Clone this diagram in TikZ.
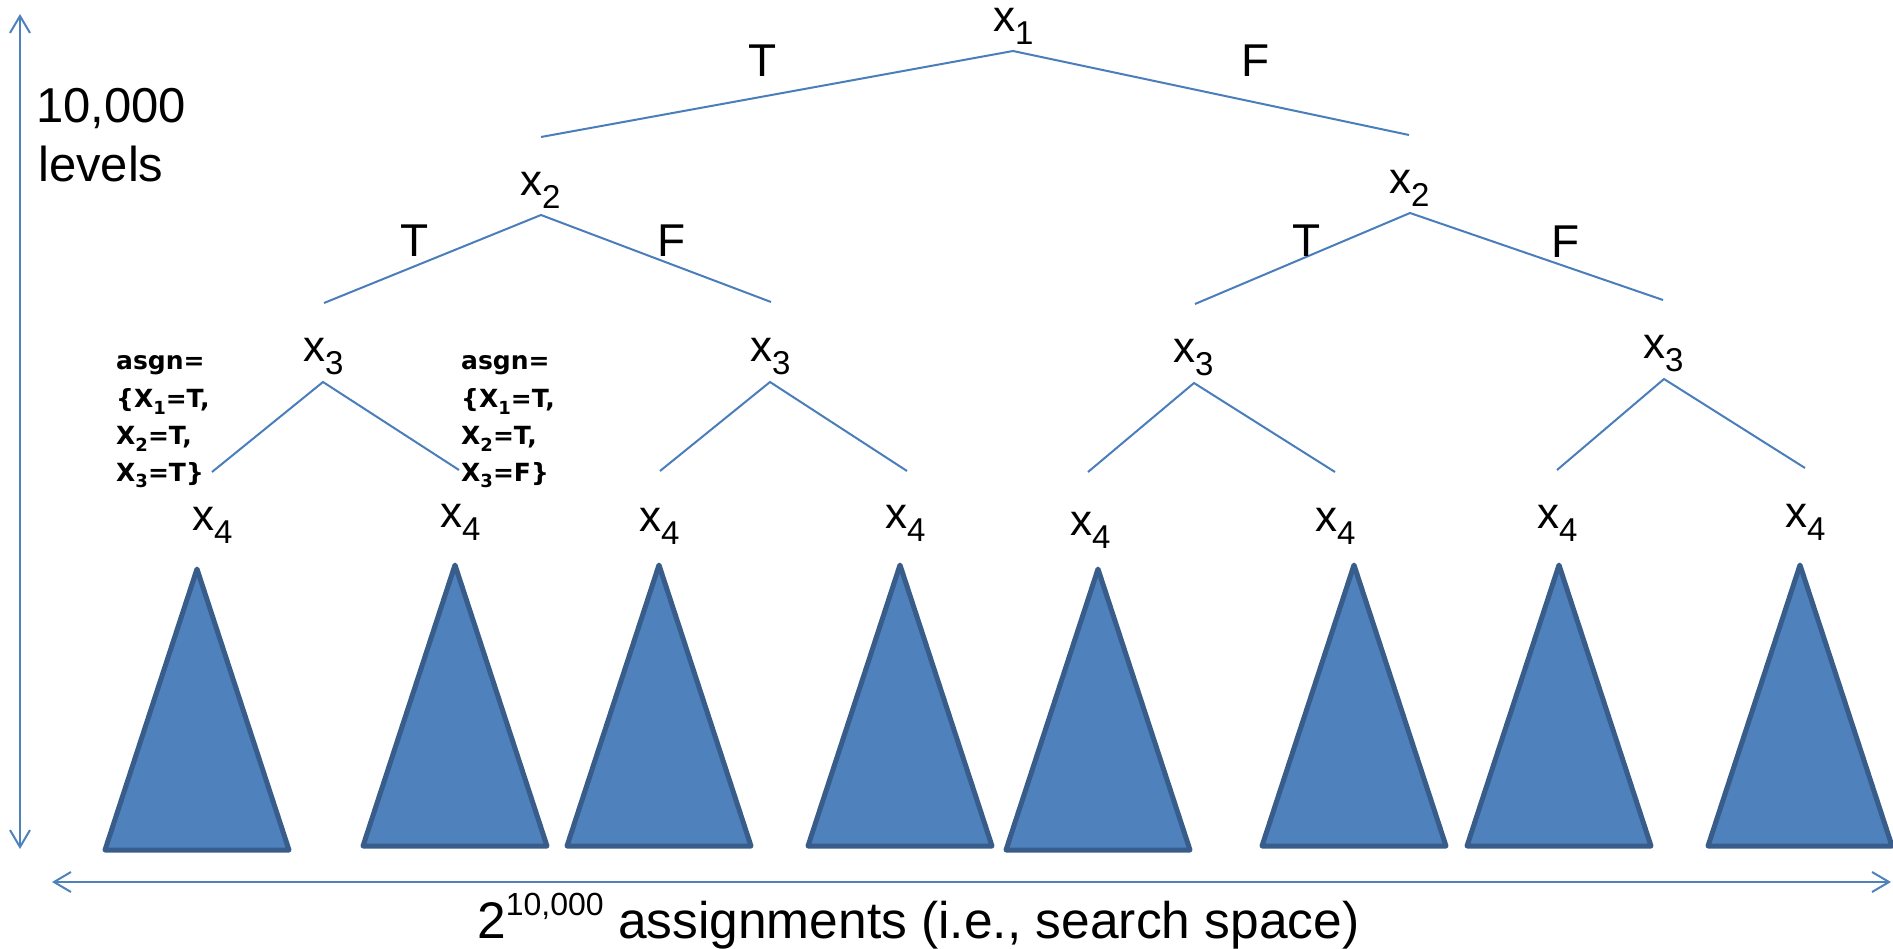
\documentclass[tikz,border=0pt]{standalone}
\usepackage{fontspec}
\setmainfont{Liberation Sans}
\newfontfamily\asgnfont{DejaVu Sans}
\usetikzlibrary{arrows.meta}
\definecolor{branchblue}{HTML}{4A7EBB}
\definecolor{trifill}{HTML}{4F81BD}
\definecolor{triedge}{HTML}{385D8A}
% variable name with a lowered index, e.g. x_3
\newcommand\varsub[1]{x\raisebox{-13pt}{\fontsize{33}{33}\selectfont #1}}
% one entry of an assignment, e.g. X_1=T
\newcommand\asub[2]{X\raisebox{-6pt}{\fontsize{18}{18}\selectfont #1}=#2}
% a subtree drawn as a filled triangle: apex x, base y
\newcommand\leaftri[2]{\draw[tri] (#1,#2-281) -- (#1+92,#2) -- (#1-92,#2) -- cycle;}
\begin{document}
\begin{tikzpicture}[x=1pt,y=-1pt,
  varlabel/.style={inner sep=0pt, anchor=base west, font=\fontsize{44}{44}\selectfont},
  tflabel/.style={inner sep=0pt, anchor=base, font=\fontsize{46}{46}\selectfont},
  biglabel/.style={inner sep=0pt, anchor=base west, font=\fontsize{49}{49}\selectfont},
  asgnline/.style={inner sep=0pt, anchor=base west, font=\asgnfont\bfseries\fontsize{25}{25}\selectfont},
  branch/.style={draw=branchblue, line width=2pt},
  tri/.style={fill=trifill, draw=triedge, line width=5pt, line join=round},
  dim/.style={draw=trifill, line width=2pt,
    arrows={Straight Barb[length=17pt,width=20pt]-Straight Barb[length=17pt,width=20pt]}}]
\useasboundingbox (0,0) rectangle (1893,949);

% ---- dimension arrows
\coordinate (vtop) at (20,14);
\coordinate (vbot) at (20,849);
\draw[dim] (vtop) -- (vbot);
\coordinate (hleft) at (52,882);
\coordinate (hright) at (1891,882);
\draw[dim] (hleft) -- (hright);

\node[biglabel] (depthA) at (36,123) {10,000};
\node[biglabel] (depthB) at (38,182) {levels};
\node[inner sep=0pt, anchor=base west, font=\fontsize{51.5}{51.5}\selectfont] (breadth) at (477,938)
  {2\raisebox{23pt}{\fontsize{32}{32}\selectfont 10,000} assignments (i.e., search space)};

% ---- branch points
\coordinate (r)   at (1013,51);
\coordinate (rL)  at (541,137);
\coordinate (rR)  at (1409,135);
\coordinate (a)   at (541,215);
\coordinate (aL)  at (324,303);
\coordinate (aR)  at (771,302);
\coordinate (b)   at (1410,213);
\coordinate (bL)  at (1195,304);
\coordinate (bR)  at (1663,300);
\coordinate (c1)  at (323,382);
\coordinate (c1L) at (212,472);
\coordinate (c1R) at (459,470);
\coordinate (c2)  at (770,382);
\coordinate (c2L) at (660,471);
\coordinate (c2R) at (907,471);
\coordinate (c3)  at (1194,383);
\coordinate (c3L) at (1088,472);
\coordinate (c3R) at (1335,472);
\coordinate (c4)  at (1664,379);
\coordinate (c4L) at (1557,470);
\coordinate (c4R) at (1805,468);

\draw[branch] (rL) -- (r) -- (rR);
\draw[branch] (aL) -- (a) -- (aR);
\draw[branch] (bL) -- (b) -- (bR);
\draw[branch] (c1L) -- (c1) -- (c1R);
\draw[branch] (c2L) -- (c2) -- (c2R);
\draw[branch] (c3L) -- (c3) -- (c3R);
\draw[branch] (c4L) -- (c4) -- (c4R);

% ---- variable labels
\node[varlabel] (x1)  at (993,32)   {\varsub{1}};
\node[varlabel] (x2a) at (520,196)  {\varsub{2}};
\node[varlabel] (x2b) at (1389,194) {\varsub{2}};
\node[varlabel] (x3a) at (303,362)  {\varsub{3}};
\node[varlabel] (x3b) at (750,362)  {\varsub{3}};
\node[varlabel] (x3c) at (1173,363) {\varsub{3}};
\node[varlabel] (x3d) at (1643,359) {\varsub{3}};
\node[varlabel] (x4a) at (192,530)  {\varsub{4}};
\node[varlabel] (x4b) at (440,527)  {\varsub{4}};
\node[varlabel] (x4c) at (639,531)  {\varsub{4}};
\node[varlabel] (x4d) at (885,528)  {\varsub{4}};
\node[varlabel] (x4e) at (1070,535) {\varsub{4}};
\node[varlabel] (x4f) at (1315,531) {\varsub{4}};
\node[varlabel] (x4g) at (1537,528) {\varsub{4}};
\node[varlabel] (x4h) at (1785,527) {\varsub{4}};

% ---- truth value labels
\node[tflabel] (t1) at (763,77)   {T};
\node[tflabel] (f1) at (1256,77)  {F};
\node[tflabel] (t2) at (415,257)  {T};
\node[tflabel] (f2) at (672,257)  {F};
\node[tflabel] (t3) at (1307,257) {T};
\node[tflabel] (f3) at (1566,258) {F};

% ---- partial assignments
\node[asgnline] (pa1) at (116,370) {asgn=};
\node[asgnline] (pa2) at (116,408) {\{\asub{1}{T},};
\node[asgnline] (pa3) at (116,445) {\asub{2}{T},};
\node[asgnline] (pa4) at (116,481) {\asub{3}{T}\}};
\node[asgnline] (pb1) at (461,370) {asgn=};
\node[asgnline] (pb2) at (461,408) {\{\asub{1}{T},};
\node[asgnline] (pb3) at (461,445) {\asub{2}{T},};
\node[asgnline] (pb4) at (461,481) {\asub{3}{F}\}};

% ---- unexplored subtrees
\leaftri{197}{850}
\leaftri{455}{846}
\leaftri{659}{846}
\leaftri{900}{846}
\leaftri{1098}{850}
\leaftri{1354}{846}
\leaftri{1559}{846}
\leaftri{1800}{846}
\end{tikzpicture}
\end{document}
